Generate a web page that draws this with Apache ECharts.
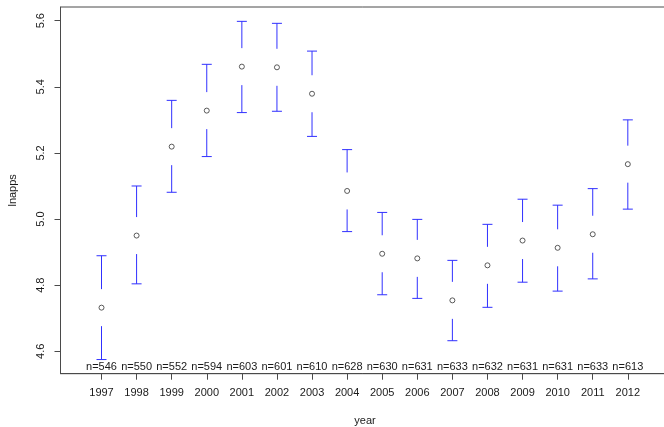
<!DOCTYPE html>
<html>
<head>
<meta charset="utf-8">
<script src="https://cdn.jsdelivr.net/npm/echarts@6/dist/echarts.min.js"></script>
<style>
  html, body { margin: 0; padding: 0; background: #ffffff; }
  #chart { width: 664px; height: 427px; }
</style>
</head>
<body>
<div id="chart"></div>
<script>
// Yearly means of lnapps with confidence intervals and group sizes
const years = ['1997', '1998', '1999', '2000', '2001', '2002', '2003', '2004',
               '2005', '2006', '2007', '2008', '2009', '2010', '2011', '2012'];
const means = [4.732, 4.950, 5.219, 5.328, 5.461, 5.459, 5.379, 5.085,
               4.895, 4.881, 4.754, 4.860, 4.935, 4.913, 4.954, 5.166];
const upper = [4.889, 5.100, 5.359, 5.468, 5.598, 5.592, 5.508, 5.210,
               5.020, 4.999, 4.875, 4.984, 5.060, 5.042, 5.092, 5.300];
const lower = [4.575, 4.804, 5.081, 5.189, 5.322, 5.326, 5.250, 4.962,
               4.771, 4.760, 4.632, 4.733, 4.809, 4.782, 4.819, 5.030];
const counts = [546, 550, 552, 594, 603, 601, 610, 628,
                630, 631, 633, 632, 631, 631, 633, 613];
const yTicks = [4.6, 4.8, 5.0, 5.2, 5.4, 5.6];

const Y_MIN = 4.5322, Y_MAX = 5.6414;
const X_MIN = -1.1685, X_MAX = 16.188;
const FONT = '"Liberation Sans", Arial, sans-serif';
const TEXT = '#1a1a1a';
const FRAME = '#4a4a4a';
const BAR = '#3030ff';

const idx = years.map((_, i) => i);

const chart = echarts.init(document.getElementById('chart'), null, { renderer: 'canvas' });

chart.setOption({
  animation: false,
  backgroundColor: '#ffffff',
  grid: {
    left: 60.5, top: 7, width: 609, height: 366.7,
    outerBoundsMode: 'none', containLabel: false,
    show: true, borderColor: FRAME, borderWidth: 1, backgroundColor: 'transparent'
  },
  xAxis: {
    type: 'value', min: X_MIN, max: X_MAX,
    name: 'year', nameLocation: 'middle', nameGap: 42,
    nameTextStyle: { fontFamily: FONT, fontSize: 11, color: TEXT },
    splitLine: { show: false },
    axisLine: { show: true, onZero: false, lineStyle: { color: FRAME, width: 1 } },
    axisTick: { show: true, length: 6, customValues: idx, lineStyle: { color: FRAME } },
    axisLabel: {
      customValues: idx, margin: 14,
      fontFamily: FONT, fontSize: 11, color: TEXT,
      formatter: v => years[Math.round(v)]
    }
  },
  yAxis: {
    type: 'value', min: Y_MIN, max: Y_MAX,
    name: 'lnapps', nameLocation: 'middle', nameGap: 42,
    nameTextStyle: { fontFamily: FONT, fontSize: 11, color: TEXT },
    splitLine: { show: false },
    axisLine: { show: true, onZero: false, lineStyle: { color: FRAME, width: 1 } },
    axisTick: { show: true, length: 6, customValues: yTicks, lineStyle: { color: FRAME } },
    axisLabel: {
      customValues: yTicks, rotate: 90, margin: 14,
      fontFamily: FONT, fontSize: 11, color: TEXT,
      formatter: v => v.toFixed(1)
    }
  },
  series: [
    {
      // confidence interval bars with a gap around the mean marker
      type: 'custom',
      data: idx.map(i => [i, lower[i], upper[i], means[i]]),
      renderItem: function (params, api) {
        const x = api.value(0);
        const lo = api.coord([x, api.value(1)]);
        const hi = api.coord([x, api.value(2)]);
        const mid = api.coord([x, api.value(3)]);
        const gap = 18.5, cap = 5;
        const style = { stroke: BAR, lineWidth: 1 };
        const children = [
          { type: 'line', shape: { x1: hi[0] - cap, y1: hi[1], x2: hi[0] + cap, y2: hi[1] }, style },
          { type: 'line', shape: { x1: lo[0] - cap, y1: lo[1], x2: lo[0] + cap, y2: lo[1] }, style }
        ];
        if (mid[1] - gap > hi[1]) {
          children.push({ type: 'line', shape: { x1: hi[0], y1: hi[1], x2: hi[0], y2: mid[1] - gap }, style });
        }
        if (mid[1] + gap < lo[1]) {
          children.push({ type: 'line', shape: { x1: lo[0], y1: mid[1] + gap, x2: lo[0], y2: lo[1] }, style });
        }
        return { type: 'group', children };
      },
      z: 2
    },
    {
      // group means
      type: 'scatter',
      data: idx.map(i => [i, means[i]]),
      symbol: 'circle', symbolSize: 5,
      itemStyle: { color: '#ffffff', borderColor: '#333333', borderWidth: 1 },
      z: 3
    },
    {
      // group sizes along the bottom of the plot
      type: 'custom',
      data: idx.map(i => [i, counts[i]]),
      renderItem: function (params, api) {
        const p = api.coord([api.value(0), Y_MIN]);
        return {
          type: 'text',
          style: {
            x: p[0], y: p[1] - 6.5,
            text: 'n=' + api.value(1),
            align: 'center', verticalAlign: 'middle',
            font: '11px ' + FONT, fill: TEXT
          }
        };
      },
      z: 4
    }
  ]
});
</script>
</body>
</html>
